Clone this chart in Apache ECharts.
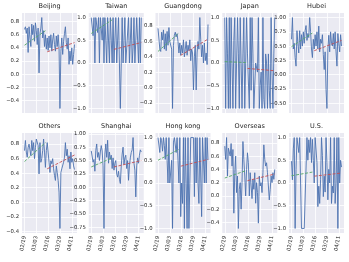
<!DOCTYPE html>
<html><head><meta charset="utf-8">
<script src="https://cdn.jsdelivr.net/npm/echarts@6/dist/echarts.min.js"></script>
<style>html,body{margin:0;padding:0;background:#fff}#c{width:349px;height:262px}</style>
</head><body><div id="c"></div>
<script>
const dates = ['02/19','02/20','02/21','02/22','02/23','02/24','02/25','02/26','02/27','02/28','02/29',
'03/01','03/02','03/03','03/04','03/05','03/06','03/07','03/08','03/09','03/10','03/11','03/12','03/13','03/14','03/15',
'03/16','03/17','03/18','03/19','03/20','03/21','03/22','03/23','03/24','03/25','03/26','03/27','03/28','03/29','03/30','03/31',
'04/01','04/02','04/03','04/04','04/05','04/06','04/07','04/08','04/09','04/10','04/11','04/12','04/13','04/14'];
const xTickLabels = ['02/19','03/03','03/16','03/29','04/11'];
const regions = ['Beijing','Taiwan','Guangdong','Japan','Hubei','Others','Shanghai','Hong kong','Overseas','U.S.'];

const beijing = [0.68,0.72,0.62,0.70,0.33,0.72,0.55,0.42,0.76,0.60,0.74,0.50,0.78,0.66,0.45,0.70,0.02,0.62,0.70,0.86,0.55,0.66,0.42,0.60,0.38,0.55,0.36,0.58,0.40,0.60,0.35,0.52,0.62,0.45,0.35,0.58,0.42,0.60,0.40,-0.52,0.35,0.55,0.30,0.50,0.62,0.72,0.48,0.38,0.55,0.15,0.35,0.20,0.40,0.15,0.30,0.45];
const taiwan = [1,1,0.6,1,0,1,1,0.67,1,0,1,1,0.5,1,0,1,1,0,1,1,0,1,1,0,1,0,0,1,0,0,1,0,-1,0,1,0,0,1,0,0,0,1,0,0,1,0,0.33,1,0,0,1,1,0,1,0,1];
const guangdong = [0.77,0.78,0.50,0.47,0.72,0.62,0.75,0.50,0.70,0.48,0.73,0.55,0.78,0.60,0.62,0.50,-0.27,0.55,0.68,0.72,0.66,0.70,0.60,0.45,0.58,0.42,0.55,0.45,0.62,0.40,0.50,0.60,0.42,0.55,0.48,0.62,0.35,0.50,0.45,-0.03,0.40,0.55,-0.03,0.45,0.60,0.50,0.91,0.62,0.40,0.55,0.32,0.58,0.35,0.45,0.30,0.82];
const japan = [1,-1,1,0.2,-1,1,-1,1,1,-1,0.5,1,-1,-1,1,0.2,-1,1,1,-1,0.2,1,-1,0,1,0.2,0.2,-1,1,-0.6,1,0.2,-1,-1,0,0,-0.2,1,-1,-0.5,-0.2,-1,1,-0.8,-1,0.2,0,-1,0.2,-0.6,-1,1,-0.2,-1,0.2,1];
const hubei = [0.62,1.0,0.45,0.55,0.30,0.15,0.77,0.55,0.38,0.77,0.45,0.70,0.50,0.75,0.55,0.77,0.86,0.60,0.72,0.65,1.0,0.75,0.45,0.30,0.62,0.45,0.70,0.50,0.75,0.45,0.85,0.40,0.62,0.55,0.70,0.35,0.09,0.40,-0.26,-0.59,0.45,0.69,0.40,0.75,0.55,0.50,0.72,0.45,0.75,0.40,0.15,0.72,0.55,0.40,0.70,0.50];
const others = [0.71,0.85,0.69,0.62,0.75,0.80,0.82,0.64,0.85,0.71,0.82,0.60,0.75,0.87,0.89,0.78,0.39,0.82,0.55,0.60,0.71,0.87,0.69,0.48,0.71,0.82,0.69,0.55,0.41,0.57,0.53,0.60,0.46,0.37,0.30,0.50,0.41,0.30,0.14,-0.36,0.41,0.46,0.48,0.55,0.62,0.82,0.64,0.73,0.55,0.64,0.46,0.69,0.55,0.60,0.50,0.45];
const shanghai = [0.68,0.68,0.47,0.52,0.30,0.69,0.81,0.56,0.65,0.50,0.66,0.78,0.68,0.40,-0.77,0.62,0.81,0.56,0.88,0.45,0.66,0.52,0.60,0.35,0.55,0.32,0.45,0.50,0.25,0.19,0.30,0.15,0.07,0.40,0.62,0.75,0.43,0.55,0.60,0.35,0.50,0.13,0.40,0.55,0.65,0.70,0.93,0.45,0.32,-0.18,0.40,0.55,0.45,0.60,0.70,0.66];
const hongkong = [1,1,0.67,1,0.93,0.70,1,0.82,0.52,1,1,0,1,0,0,0.5,-1,0.9,1,1,0.67,1,1,0,1,-0.74,0,-0.45,1,-1,1,0,-1,1,-1,-1,1,1,1,1,-0.3,1,0,1,0,-0.45,1,1,-0.74,1,1,0,1,0,1,0.5];
const overseas = [0.75,0.55,0.88,0.30,0.72,0.70,0.60,0.79,0.45,0.70,-0.26,0.35,0.60,0.05,0.30,-0.49,0.10,0.20,-0.20,0.20,0.82,0.55,0.30,0.00,0.40,0.65,0.50,0.00,0.35,0.15,-0.04,0.25,0.10,0.35,-0.11,0.20,0.05,-0.41,0.30,0.15,0.20,0.05,0.35,0.77,0.55,0.45,0.50,0.35,0.15,-0.06,0.10,0.30,0.20,0.35,0.25,0.40];
const us = [0.48,0.07,0.75,1.0,-1.0,0.3,1.0,1.0,0.67,1.0,0.0,-1,-1,-1,-1,-1,-1,1.0,0.5,0.95,0.67,1.0,0.45,0.96,0.5,0.0,1.0,1.0,0.45,-0.52,-0.07,-0.45,0.07,1.0,0.6,-0.3,0.15,-0.2,1.0,0.45,-0.37,0.3,0.0,1.0,-0.45,-0.07,-0.22,1.0,-0.45,0.0,1.0,-1.0,1.0,0.0,0.5,0.35];

// trend lines [start, end] : green over first period, red over second period
const greenTrends = [[0.44,0.66],[0.65,0.95],[0.47,0.71],[0.03,0.01],[0.49,0.73],[0.56,0.82],[0.38,0.55],[0.50,0.74],[0.27,0.38],[0.16,0.24]];
const redTrends = [[0.34,0.48],[0.30,0.45],[0.42,0.63],[-0.12,-0.17],[0.42,0.60],[0.46,0.65],[0.38,0.50],[0.37,0.52],[0.23,0.33],[0.15,0.22]];
const greenDays = ['02/19','03/13'];
const redDays = ['03/15','04/14'];

const ticksFine = [-0.4,-0.2,0,0.2,0.4,0.6,0.8];
const ticksHalf = [-1,-0.5,0,0.5,1];
const ticksQuarter = [-0.75,-0.5,-0.25,0,0.25,0.5,0.75,1];
const seriesValues = [beijing,taiwan,guangdong,japan,hubei,others,shanghai,hongkong,overseas,us];
const yTickSets = [ticksFine,ticksHalf,ticksFine,ticksHalf,ticksQuarter,ticksFine,ticksQuarter,ticksHalf,ticksFine,ticksHalf];
const yDecimals = [1,1,1,1,2,1,2,1,1,1];

// layout
const colLeft = [22, 88.75, 155.5, 222.25, 289];
const rowTop = [13, 133];
const plotW = 55, plotH = 100;
const FONT = 'DejaVu Sans';
const TXT = '#262626';

const n = dates.length;
const xPad = 0.05*(n-1);
const xTickPos = xTickLabels.map(l => dates.indexOf(l));
const fmtY = dec => v => (v < 0 ? '\u2212' : '') + Math.abs(v).toFixed(dec);

const grids = [], xAxes = [], yAxes = [], series = [], titles = [];
regions.forEach((name, i) => {
  const row = Math.floor(i/5), col = i%5;
  const vals = seriesValues[i];
  const lo = Math.min(...vals), hi = Math.max(...vals), r = hi - lo;
  const ymin = lo - 0.05*r, ymax = hi + 0.05*r;
  const yt = yTickSets[i].filter(v => v >= ymin - 1e-9 && v <= ymax + 1e-9);
  grids.push({left: colLeft[col], top: rowTop[row], width: plotW, height: plotH, show: true,
    backgroundColor: '#EAEAF2', borderWidth: 0, containLabel: false});
  titles.push({text: name, left: colLeft[col] + plotW/2, top: rowTop[row] - 10.5, textAlign: 'center', padding: 0,
    textStyle: {fontFamily: FONT, fontSize: 6.5, fontWeight: 'normal', color: TXT}});
  xAxes.push({type: 'value', gridIndex: i, min: -xPad, max: n-1+xPad,
    axisLine: {show: false}, axisTick: {show: false, customValues: xTickPos},
    splitLine: {show: true, lineStyle: {color: '#ffffff', width: 0.8}},
    axisLabel: {show: row === 1, customValues: xTickPos, rotate: 80, margin: 3,
      fontFamily: FONT, fontSize: 5.3, color: TXT, formatter: v => dates[Math.round(v)]}});
  yAxes.push({type: 'value', gridIndex: i, min: ymin, max: ymax,
    axisLine: {show: false}, axisTick: {show: false, customValues: yt},
    splitLine: {show: true, lineStyle: {color: '#ffffff', width: 0.8}},
    axisLabel: {customValues: yt, margin: 3, fontFamily: FONT, fontSize: 5.3, color: TXT, formatter: fmtY(yDecimals[i])}});
  series.push({type: 'line', xAxisIndex: i, yAxisIndex: i, showSymbol: false, animation: false,
    data: vals.map((v, k) => [k, v]), lineStyle: {color: '#4C72B0', width: 0.9}, z: 2});
  const g0 = dates.indexOf(greenDays[0]), g1 = dates.indexOf(greenDays[1]);
  const r0 = dates.indexOf(redDays[0]), r1 = dates.indexOf(redDays[1]);
  series.push({type: 'line', xAxisIndex: i, yAxisIndex: i, showSymbol: false, animation: false,
    data: [[g0, greenTrends[i][0]], [g1, greenTrends[i][1]]], lineStyle: {color: '#55A868', width: 0.9, type: [3, 1.6]}, z: 3});
  series.push({type: 'line', xAxisIndex: i, yAxisIndex: i, showSymbol: false, animation: false,
    data: [[r0, redTrends[i][0]], [r1, redTrends[i][1]]], lineStyle: {color: '#C44E52', width: 0.9, type: [3, 1.6]}, z: 3});
});

const chart = echarts.init(document.getElementById('c'), null, {renderer: 'canvas'});
chart.setOption({animation: false, backgroundColor: '#ffffff', title: titles, grid: grids, xAxis: xAxes, yAxis: yAxes, series: series});
</script></body></html>
